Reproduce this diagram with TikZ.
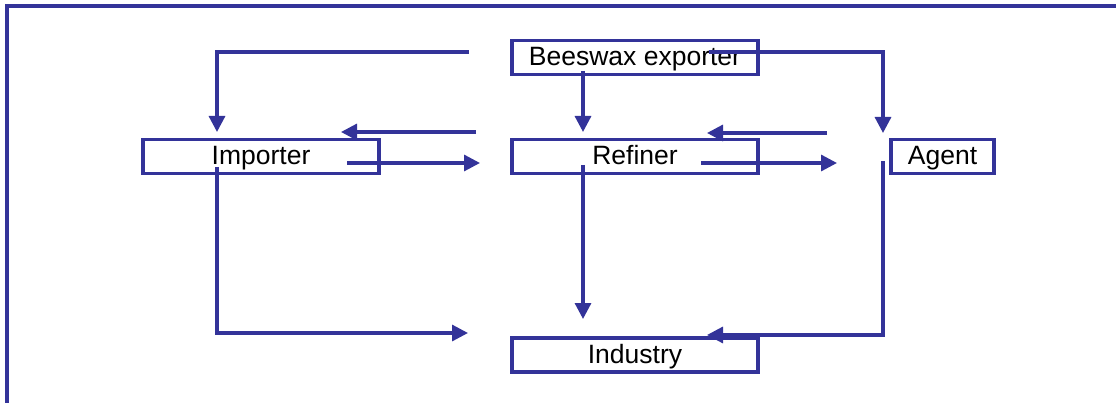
\documentclass[tikz,border=0pt]{standalone}
\usepackage{fontspec}
\setmainfont{Liberation Sans}
\usetikzlibrary{arrows.meta}
\definecolor{chanblue}{RGB}{51,51,153}
\begin{document}
\begin{tikzpicture}[x=1pt,y=-1pt,
  actor/.style={draw=chanblue, line width=3.4pt, fill=none, inner sep=0pt,
    minimum height=34pt, text height=17pt, text depth=0pt,
    font=\fontsize{26.5}{30}\selectfont, text=black},
  flow/.style={draw=chanblue, line width=3.2pt,
    -{Triangle[length=16pt,width=16pt]}},
]
\useasboundingbox (0,0) rectangle (1116,403);
% frame
\draw[chanblue, line width=3.4pt] (7,403) -- (7,6) -- (1116,6);

% actors
\node[actor, minimum width=246pt] (exp) at (635,57.5) {Beeswax exporter};
\node[actor, minimum width=236pt] (imp) at (261,156.5) {Importer};
\node[actor, minimum width=246pt] (ref) at (635,156.5) {Refiner};
\node[actor, minimum width=103pt] (agt) at (942.5,156.5) {Agent};
\node[actor, minimum width=246pt] (ind) at (635,355) {Industry};

% connector ends
\coordinate (expL) at (469,52);
\coordinate (expB) at (583,71);
\coordinate (expR) at (709,52);
\coordinate (impIn) at (217,132);
\coordinate (refIn) at (583,132);
\coordinate (agtIn) at (883,133);
\coordinate (refBackS) at (827,133);
\coordinate (refBackE) at (707,133);
\coordinate (refOutS) at (701,163);
\coordinate (refOutE) at (837,163);
\coordinate (impBackS) at (476,132);
\coordinate (impBackE) at (341,132);
\coordinate (impOutS) at (347,163);
\coordinate (impOutE) at (480,163);
\coordinate (impDown) at (217,167);
\coordinate (impCorner) at (217,333);
\coordinate (indL) at (468,333);
\coordinate (refDown) at (583,165);
\coordinate (indT) at (583,319);
\coordinate (agtDown) at (883,161);
\coordinate (agtCorner) at (883,335);
\coordinate (indR) at (707,335);

% flows
\draw[flow] (expL) -| (impIn);
\draw[flow] (expB) -- (refIn);
\draw[flow] (expR) -| (agtIn);
\draw[flow] (refBackS) -- (refBackE);
\draw[flow] (refOutS) -- (refOutE);
\draw[flow] (impBackS) -- (impBackE);
\draw[flow] (impOutS) -- (impOutE);
\draw[flow] (impDown) |- (indL);
\draw[flow] (refDown) -- (indT);
\draw[flow] (agtDown) |- (indR);
\end{tikzpicture}
\end{document}
